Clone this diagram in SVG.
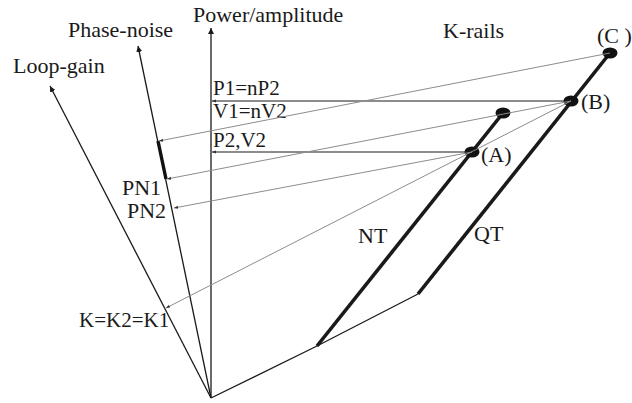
<svg xmlns="http://www.w3.org/2000/svg" width="632" height="403" viewBox="0 0 632 403">
  <style>
    text { font-family: "Liberation Serif", "Times New Roman", serif; font-size: 21px; fill: #1a1a1a; }
    .big { font-size: 22px; }
    .axis { stroke: #1a1a1a; stroke-width: 1.3; fill: none; }
    .level { stroke: #1a1a1a; stroke-width: 1.2; fill: none; }
    .proj { stroke: #8c8c8c; stroke-width: 1; fill: none; }
    .rail { stroke: #1a1a1a; stroke-width: 3.6; fill: none; stroke-linecap: butt; }
    .dot { fill: #111; }
  </style>
  <defs>
    <marker id="tip" markerUnits="userSpaceOnUse" markerWidth="8" markerHeight="6" refX="6" refY="3" orient="auto">
      <path d="M0,0 L6,3 L0,6 Z" fill="#1a1a1a"/>
    </marker>
    <marker id="tinytip" markerUnits="userSpaceOnUse" markerWidth="6" markerHeight="4" refX="4" refY="2" orient="auto">
      <path d="M0,0.5 L4,2 L0,3.5 Z" fill="#333"/>
    </marker>
  </defs>

  <!-- axes from the common origin -->
  <g id="axis-power">
    <line class="axis" x1="211" y1="398" x2="211" y2="28" marker-end="url(#tip)"/>
    <text class="big" x="193" y="22">Power/amplitude</text>
  </g>
  <g id="axis-phase-noise">
    <line class="axis" x1="211" y1="398" x2="138" y2="46" marker-end="url(#tip)"/>
    <text class="big" x="68" y="37">Phase-noise</text>
  </g>
  <g id="axis-loop-gain">
    <line class="axis" x1="211" y1="398" x2="50" y2="86" marker-end="url(#tip)"/>
    <text class="big" x="13" y="73">Loop-gain</text>
  </g>

  <!-- base of the rails -->
  <g id="rail-base">
    <polyline class="axis" points="211,398 317,346 418,294"/>
  </g>

  <!-- K-rails -->
  <g id="rail-NT">
    <line class="rail" x1="317" y1="346" x2="503" y2="113"/>
    <ellipse class="dot" cx="503" cy="113" rx="7.5" ry="5.5"/>
    <text class="big" x="358" y="243">NT</text>
  </g>
  <g id="rail-QT">
    <line class="rail" x1="418" y1="294" x2="610" y2="53"/>
    <text class="big" x="474" y="241">QT</text>
  </g>
  <text class="big" x="443" y="38">K-rails</text>

  <!-- operating points -->
  <g id="point-A">
    <ellipse class="dot" cx="472" cy="152" rx="7.5" ry="5.5"/>
    <text class="big" x="481" y="162">(A)</text>
  </g>
  <g id="point-B">
    <ellipse class="dot" cx="571" cy="101" rx="7.5" ry="5.5"/>
    <text class="big" x="581" y="109">(B)</text>
  </g>
  <g id="point-C">
    <ellipse class="dot" cx="610" cy="53" rx="7.5" ry="5.5"/>
    <text class="big" x="597" y="43">(C )</text>
  </g>

  <!-- phase-noise span -->
  <g id="pn-span">
    <line stroke="#111" stroke-width="3.4" x1="158" y1="141" x2="166" y2="179"/>
    <text class="big" x="122" y="195">PN1</text>
    <text class="big" x="127" y="218">PN2</text>
  </g>

  <g id="k-label">
    <text x="79" y="327">K=K2=K1</text>
  </g>

  <!-- power levels -->
  <g id="levels">
    <text x="213" y="95">P1=nP2</text>
    <text x="213" y="118">V1=nV2</text>
    <text x="213" y="147">P2,V2</text>
  </g>

  <!-- connectors -->
  <g id="connectors">
    <line class="level" x1="571" y1="101" x2="212" y2="101" marker-end="url(#tinytip)"/>
    <line class="level" x1="472" y1="152" x2="212" y2="152" marker-end="url(#tinytip)"/>
    <line class="proj" x1="610" y1="53" x2="159" y2="141" marker-end="url(#tinytip)"/>
    <line class="proj" x1="571" y1="101" x2="167" y2="179" marker-end="url(#tinytip)"/>
    <line class="proj" x1="472" y1="152" x2="174" y2="208" marker-end="url(#tinytip)"/>
    <line class="proj" x1="571" y1="101" x2="166" y2="308" marker-end="url(#tinytip)"/>
  </g>
</svg>
